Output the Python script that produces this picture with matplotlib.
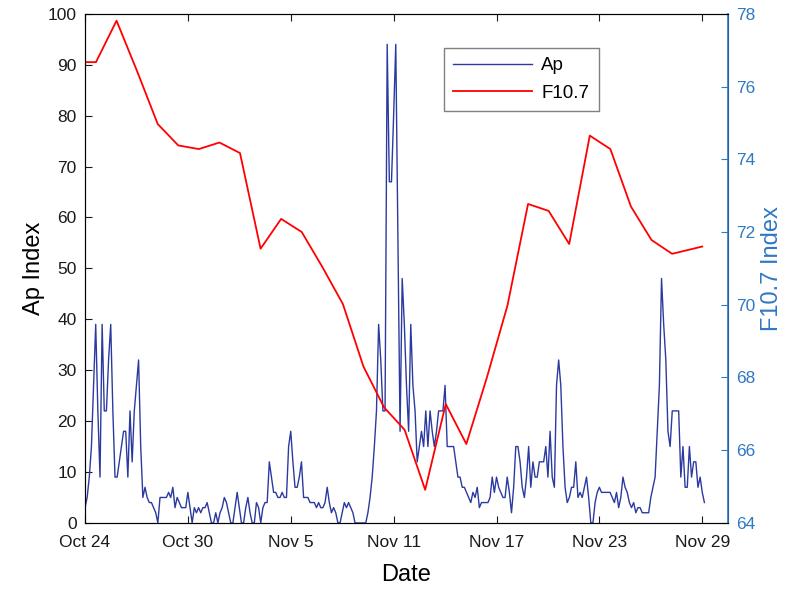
import numpy as np
import matplotlib
matplotlib.use("Agg")
import matplotlib.pyplot as plt

plt.rcParams['font.family'] = ['Liberation Sans', 'DejaVu Sans']

# 3-hourly Ap index, starting Oct 24 00:00
ap = [3, 5, 9, 15, 27, 39, 22, 9, 39, 22, 22, 32, 39, 22, 9, 9,
      12, 15, 18, 18, 9, 22, 12, 22, 27, 32, 15, 5, 7, 5, 4, 4,
      3, 2, 0, 5, 5, 5, 5, 6, 5, 7, 3, 5, 4, 3, 3, 3,
      6, 3, 0, 3, 2, 3, 2, 3, 3, 4, 2, 0, 0, 2, 0, 2,
      3, 5, 4, 2, 0, 0, 3, 6, 3, 0, 0, 3, 5, 2, 0, 0,
      4, 3, 0, 3, 4, 4, 12, 9, 6, 6, 5, 5, 6, 5, 5, 15,
      18, 12, 7, 7, 9, 12, 5, 5, 5, 4, 4, 4, 3, 4, 3, 3,
      4, 7, 4, 2, 3, 2, 0, 0, 2, 4, 3, 4, 3, 2, 0, 0,
      0, 0, 0, 0, 2, 5, 9, 15, 22, 39, 32, 22, 22, 94, 67, 67,
      80, 94, 56, 18, 48, 39, 27, 18, 39, 27, 22, 12, 15, 18, 15, 22,
      15, 22, 18, 15, 18, 22, 22, 22, 27, 15, 15, 15, 15, 12, 9, 9,
      7, 7, 6, 5, 4, 6, 5, 7, 3, 4, 4, 4, 4, 5, 9, 6,
      9, 7, 6, 5, 5, 9, 6, 2, 7, 15, 15, 12, 7, 5, 9, 15,
      7, 12, 9, 9, 12, 12, 12, 15, 9, 18, 9, 7, 27, 32, 27, 15,
      7, 4, 5, 7, 7, 12, 5, 6, 5, 7, 9, 5, 0, 0, 4, 6,
      7, 6, 6, 6, 6, 6, 5, 4, 6, 3, 5, 9, 7, 6, 4, 3,
      4, 2, 3, 3, 2, 2, 2, 2, 5, 7, 9, 18, 27, 48, 39, 32,
      18, 15, 22, 22, 22, 22, 9, 15, 7, 7, 15, 9, 12, 12, 7, 9,
      6, 4]

# F10.7 flux samples
f107 = [76.67, 76.67, 77.81, 76.42, 74.97, 74.38, 74.28, 74.46, 74.17,
        71.54, 72.36, 72.00, 71.04, 70.02, 68.30, 67.18, 66.56, 64.91,
        67.27, 66.17, 68.00, 69.98, 72.77, 72.58, 71.67, 74.65, 74.28,
        72.70, 71.78, 71.40, 71.60]

tick_days = [0, 6, 12, 18, 24, 30, 36]
tick_labels = ['Oct 24', 'Oct 30', 'Nov 5', 'Nov 11', 'Nov 17', 'Nov 23', 'Nov 29']

ap_t = np.arange(len(ap)) * 0.125
f_t = np.concatenate([[0.0], 0.64 + 1.2 * np.arange(len(f107) - 2), [36.0]])

right_col = '#2f78c4'

fig = plt.figure(figsize=(7.87, 5.99), dpi=100)
ax = fig.add_axes([0.108, 0.127, 0.817, 0.85])
ax2 = ax.twinx()

l1, = ax.plot(ap_t, ap, color='#2b3aa0', lw=1.0, label='Ap')
l2, = ax2.plot(f_t, f107, color='#ff0000', lw=1.3, label='F10.7')

ax.set_xlim(0, 37.5)
ax.set_ylim(0, 100)
ax.set_yticks(np.arange(0, 101, 10))
ax.set_xticks(tick_days)
ax.set_xticklabels(tick_labels)
ax2.set_ylim(64, 78)
ax2.set_yticks(np.arange(64, 79, 2))

ax.tick_params(axis='both', direction='in', labelsize=12.5, length=5,
               top=True, colors='#1a1a1a')
ax.tick_params(axis='x', pad=9)
ax.tick_params(axis='y', right=False, pad=6)
ax2.tick_params(axis='y', direction='in', labelsize=12.5, length=5,
                colors=right_col, pad=6)
for s in ['left', 'top', 'bottom']:
    ax.spines[s].set_color('#262626')
ax2.spines['right'].set_color(right_col)
ax2.spines['right'].set_linewidth(1.2)

ax.set_xlabel('Date', fontsize=17, labelpad=10)
ax.set_ylabel('Ap Index', fontsize=17, labelpad=2)
ax2.set_ylabel('F10.7 Index', fontsize=17, color=right_col, labelpad=4)

leg = ax.legend([l1, l2], ['Ap', 'F10.7'], loc='upper left',
                bbox_to_anchor=(0.558, 0.933), fontsize=13.5,
                fancybox=False, edgecolor='#808080', framealpha=1,
                handlelength=4.2, borderpad=0.5, labelspacing=0.55,
                handletextpad=0.5, borderaxespad=0)
leg.get_frame().set_linewidth(1.0)

fig.savefig('out.png', dpi=100)
